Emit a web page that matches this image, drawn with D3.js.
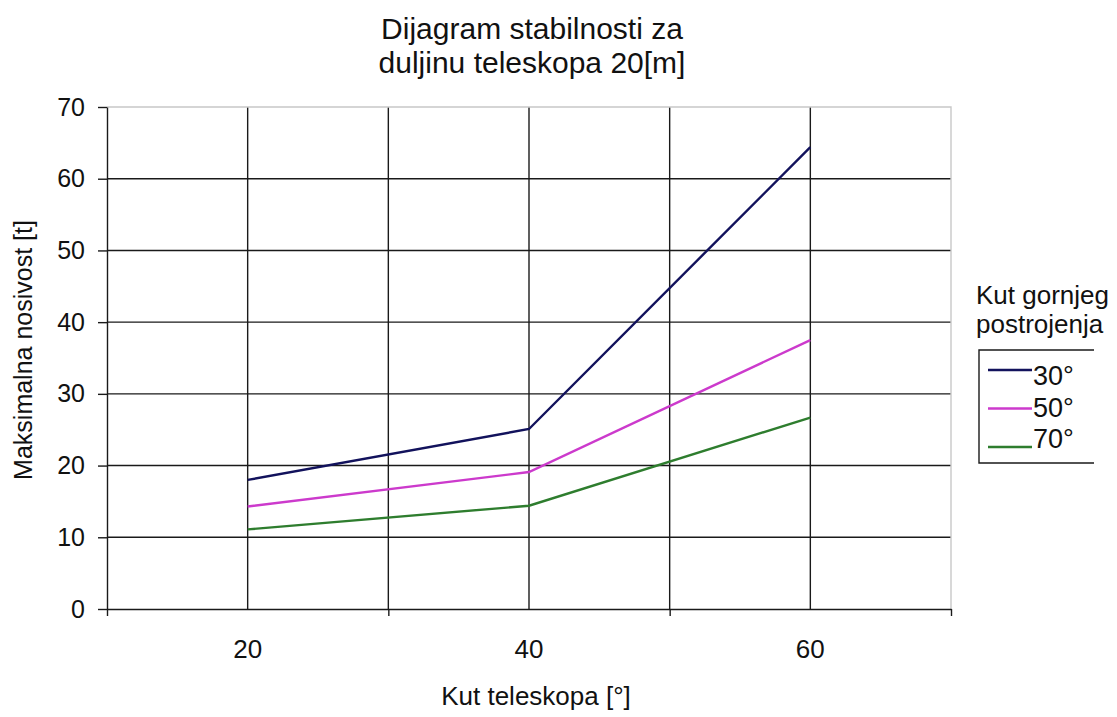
<!DOCTYPE html>
<html>
<head>
<meta charset="utf-8">
<script src="https://cdn.jsdelivr.net/npm/d3@7"></script>
<style>
  html, body { margin: 0; padding: 0; background: #fff; }
  svg { display: block; font-family: "Liberation Sans", Arial, sans-serif; }
</style>
</head>
<body>
<div id="chart"></div>
<script>
const angles = [20, 40, 60];
const seriesNames = ['30°', '50°', '70°'];
const values30 = [18.0, 25.1, 64.4];
const values50 = [14.3, 19.1, 37.5];
const values70 = [11.1, 14.4, 26.7];
const yTicks = [0, 10, 20, 30, 40, 50, 60, 70];
const xGrid = [20, 30, 40, 50, 60];
const xTickMarks = [10, 30, 50, 70];

const series = [
  { name: seriesNames[0], values: values30, color: '#12125c' },
  { name: seriesNames[1], values: values50, color: '#cc3acc' },
  { name: seriesNames[2], values: values70, color: '#2e7d2e' },
];

const width = 1117, height = 717;
const m = { left: 107, right: 951, top: 107, bottom: 609 };
const ink = '#111';

const svg = d3.select('#chart').append('svg')
  .attr('width', width).attr('height', height);

const x = d3.scaleLinear().domain([10, 70]).range([m.left, m.right]);
const y = d3.scaleLinear().domain([0, 70]).range([m.bottom, m.top]);

// horizontal gridlines
svg.append('g').selectAll('line').data(yTicks.filter(d => d > 0 && d < 70)).join('line')
  .attr('x1', m.left).attr('x2', m.right)
  .attr('y1', d => y(d)).attr('y2', d => y(d))
  .attr('stroke', '#1a1a1a').attr('stroke-width', 1.4);

// vertical gridlines
svg.append('g').selectAll('line').data(xGrid).join('line')
  .attr('x1', d => x(d)).attr('x2', d => x(d))
  .attr('y1', m.top).attr('y2', m.bottom)
  .attr('stroke', '#1a1a1a').attr('stroke-width', 1.4);

// top and right border (light)
svg.append('path')
  .attr('d', `M${m.left},${m.top}H${m.right}V${m.bottom}`)
  .attr('fill', 'none').attr('stroke', '#c8c8c8').attr('stroke-width', 1.4);

// y axis
const yAxis = svg.append('g').attr('transform', `translate(${m.left},0)`)
  .call(d3.axisLeft(y).tickValues(yTicks).tickSize(9).tickPadding(13).tickSizeOuter(0));
yAxis.select('.domain').attr('stroke', '#1a1a1a').attr('stroke-width', 1.4);
yAxis.selectAll('.tick line').attr('stroke', '#1a1a1a').attr('stroke-width', 1.4);
yAxis.selectAll('.tick text').attr('font-size', 25).attr('fill', ink)
  .attr('font-family', '"Liberation Sans", Arial, sans-serif');

// x axis: tick marks between categories, labels at categories
const xAxis = svg.append('g').attr('transform', `translate(0,${m.bottom})`)
  .call(d3.axisBottom(x).tickValues(xTickMarks).tickSize(7).tickFormat('').tickSizeOuter(0));
xAxis.select('.domain').attr('stroke', '#1a1a1a').attr('stroke-width', 1.4);
xAxis.selectAll('.tick line').attr('stroke', '#1a1a1a').attr('stroke-width', 1.4);

svg.append('g').selectAll('text').data(angles).join('text')
  .attr('x', d => x(d)).attr('y', m.bottom + 49)
  .attr('text-anchor', 'middle').attr('font-size', 26).attr('fill', ink)
  .text(d => d);

// lines
const line = d3.line().x((d, i) => x(angles[i])).y(d => y(d));
svg.append('g').selectAll('path').data(series).join('path')
  .attr('d', d => line(d.values))
  .attr('fill', 'none').attr('stroke', d => d.color).attr('stroke-width', 2.4);

// titles
svg.append('text').attr('x', 532).attr('y', 39).attr('text-anchor', 'middle')
  .attr('font-size', 30).attr('fill', ink).text('Dijagram stabilnosti za');
svg.append('text').attr('x', 532).attr('y', 73).attr('text-anchor', 'middle')
  .attr('font-size', 30).attr('fill', ink).text('duljinu teleskopa 20[m]');

svg.append('text').attr('x', 536).attr('y', 705).attr('text-anchor', 'middle')
  .attr('font-size', 26).attr('fill', ink).text('Kut teleskopa [°]');

svg.append('text')
  .attr('transform', `translate(32,350) rotate(-90)`)
  .attr('text-anchor', 'middle').attr('font-size', 25).attr('fill', ink)
  .text('Maksimalna nosivost [t]');

// legend
svg.append('text').attr('x', 976).attr('y', 304).attr('font-size', 26).attr('fill', ink)
  .text('Kut gornjeg');
svg.append('text').attr('x', 976).attr('y', 333).attr('font-size', 26).attr('fill', ink)
  .text('postrojenja');

svg.append('path')
  .attr('d', 'M1094,350H979V463H1094')
  .attr('fill', 'none').attr('stroke', '#1a1a1a').attr('stroke-width', 1.4);

const lg = svg.append('g').selectAll('g').data(series).join('g');
lg.append('line').attr('x1', 988).attr('x2', 1032)
  .attr('y1', (d, i) => 370 + i * 38.5).attr('y2', (d, i) => 370 + i * 38.5)
  .attr('stroke', d => d.color).attr('stroke-width', 2.4);
lg.append('text').attr('x', 1033).attr('y', (d, i) => 385 + i * 31.5)
  .attr('font-size', 27).attr('fill', ink)
  .text(d => d.name);
</script>
</body>
</html>
